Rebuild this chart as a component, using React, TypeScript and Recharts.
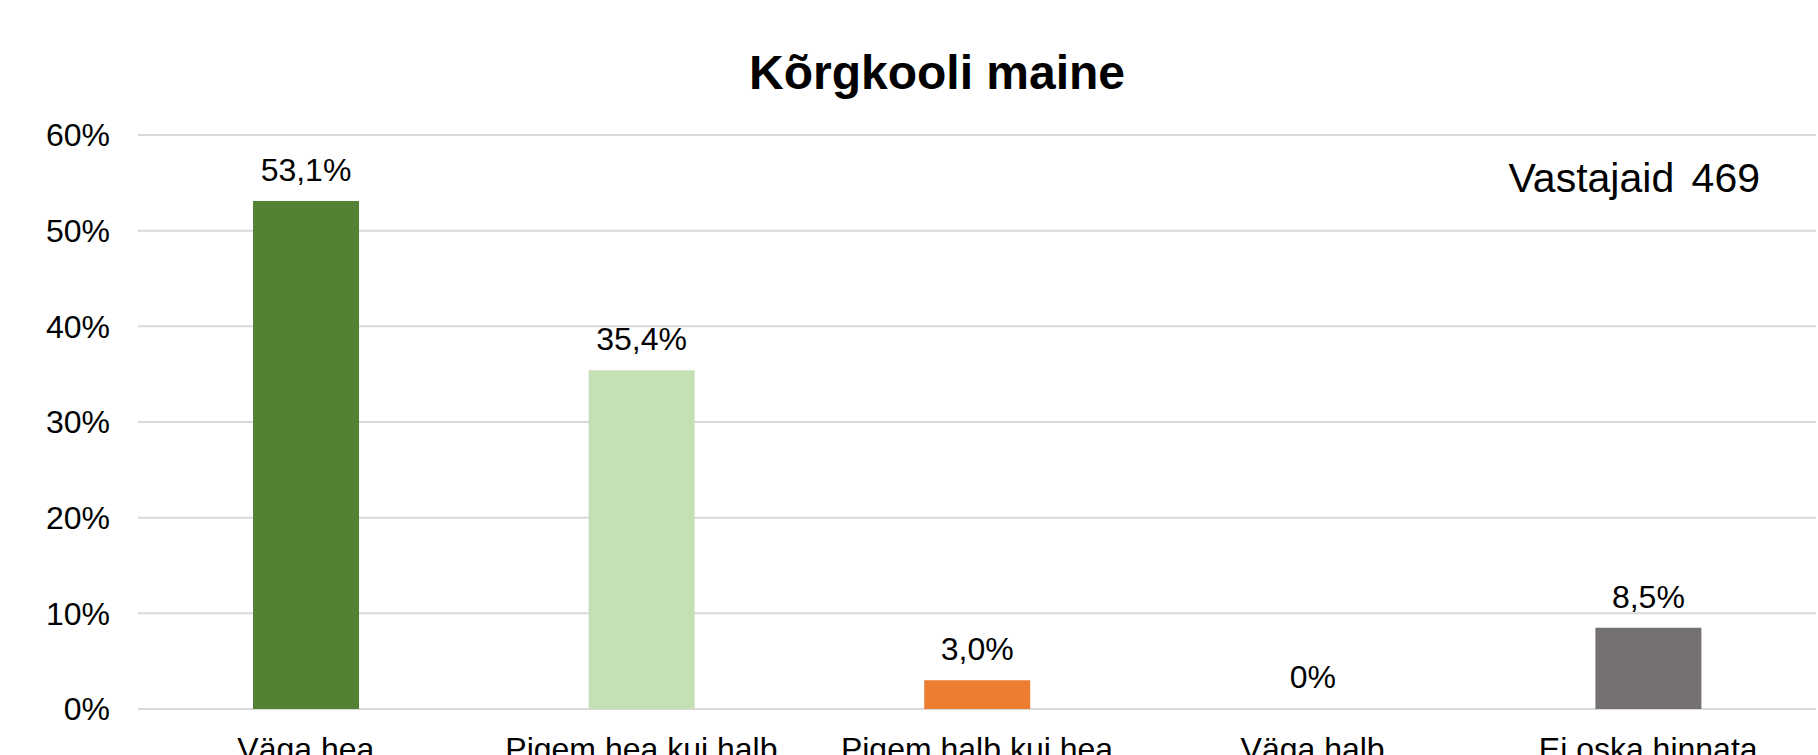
import React from 'react'
import { BarChart, Bar, XAxis, YAxis, Cell, LabelList, CartesianGrid } from 'recharts'

const categories = ['Väga hea', 'Pigem hea kui halb', 'Pigem halb kui hea', 'Väga halb', 'Ei oska hinnata']
const values = [53.1, 35.4, 3.0, 0, 8.5]
const valueLabels = ['53,1%', '35,4%', '3,0%', '0%', '8,5%']
const yTicks = [0, 10, 20, 30, 40, 50, 60]
// the zero bar gets no visible fill, only its label
const COLORS = ['#548235', '#C5E0B4', '#ED7D31', 'transparent', '#767171']

const FONT = '"Liberation Sans", Arial, sans-serif'

const data = categories.map((name, i) => ({ name, value: values[i], label: valueLabels[i] }))

const App: React.FC = () => {
  return (
    <div style={{ position: 'absolute', left: 0, top: 0, width: 1818, height: 755, background: '#fff', fontFamily: FONT }}>
      <BarChart
        width={1818}
        height={755}
        data={data}
        margin={{ top: 135, right: 2, bottom: 0, left: 0 }}
        barSize={106}
      >
        <CartesianGrid vertical={false} stroke="#d9d9d9" strokeWidth={2} />
        <XAxis
          dataKey="name"
          height={46}
          interval={0}
          axisLine={false}
          tickLine={false}
          tickSize={0}
          tickMargin={28}
          tick={{ fontSize: 32, fill: '#000', fontFamily: FONT }}
        />
        <YAxis
          width={138}
          domain={[0, 60]}
          ticks={yTicks}
          interval={0}
          axisLine={false}
          tickLine={false}
          tickSize={0}
          tickMargin={28}
          tickFormatter={(v: number) => `${v}%`}
          tick={{ fontSize: 32, fill: '#000', fontFamily: FONT }}
        />
        <Bar dataKey="value" minPointSize={1} isAnimationActive={false}>
          {data.map((entry, index) => (
            <Cell key={`cell-${index}`} fill={COLORS[index % COLORS.length]} />
          ))}
          <LabelList
            dataKey="label"
            position="top"
            offset={20}
            style={{ fontSize: 32, fill: '#000', fontFamily: FONT }}
          />
        </Bar>
      </BarChart>
      <svg width={1818} height={755} style={{ position: 'absolute', left: 0, top: 0, pointerEvents: 'none' }}>
        <text x={937} y={89} textAnchor="middle" fontSize={48} fontWeight="bold" fill="#000" fontFamily={FONT}>
          Kõrgkooli maine
        </text>
        <text x={1760} y={192} textAnchor="end" fontSize={41} fill="#000" fontFamily={FONT}>
          Vastajaid<tspan dx={6}> 469</tspan>
        </text>
      </svg>
    </div>
  )
}

export default App
